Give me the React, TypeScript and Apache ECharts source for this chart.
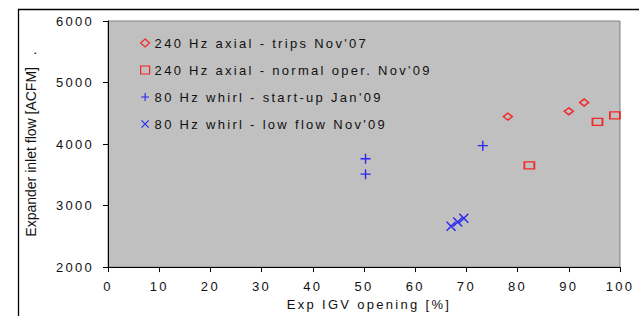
import React, { useEffect, useRef } from "react";
import * as echarts from "echarts";

const seriesNames = [
  "240 Hz axial - trips Nov'07",
  "240 Hz axial - normal oper. Nov'09",
  "80 Hz whirl - start-up Jan'09",
  "80 Hz whirl - low flow Nov'09",
];
const tripsNov07 = [
  [78.1, 4446],
  [90.0, 4532],
  [93.0, 4676],
];
const normalNov09 = [
  [82.3, 3655],
  [95.6, 4361],
  [99.0, 4468],
];
const startupJan09 = [
  [50.3, 3760],
  [50.3, 3511],
  [73.2, 3974],
];
const lowFlowNov09 = [
  [67.0, 2665],
  [68.3, 2734],
  [69.5, 2793],
];
const xTicks = { min: 0, max: 100, interval: 10 };
const yTicks = { min: 2000, max: 6000, interval: 1000 };
const xName = "Exp IGV opening [%]";
const yName = "Expander inlet flow [ACFM]   .";

const PLUS =
  "path://M4.3,0 L5.7,0 L5.7,4.3 L10,4.3 L10,5.7 L5.7,5.7 L5.7,10 L4.3,10 L4.3,5.7 L0,5.7 L0,4.3 L4.3,4.3 Z";
const CROSS =
  "path://M0,1 L1,0 L10,9 L9,10 Z M9,0 L10,1 L1,10 L0,9 Z";

const RED = "#ff0000";
const BLUE = "#0000ff";
const TXT = "#111111";
const FONT = "Liberation Sans, Arial, sans-serif";

export default function App() {
  const ref = useRef<HTMLDivElement>(null);
  useEffect(() => {
    if (!ref.current) return;
    const chart = echarts.init(ref.current, undefined, { renderer: "svg" });
    chart.setOption({
      animation: false,
      backgroundColor: "#ffffff",
      textStyle: { fontFamily: FONT, color: TXT },
      graphic: [
        {
          type: "rect",
          z: -10,
          shape: { x: 18.5, y: 9.5, width: 700, height: 400 },
          style: { fill: "none", stroke: "#000", lineWidth: 1.3 },
        },
      ],
      grid: {
        left: 108,
        right: 19,
        top: 21,
        bottom: 44,
        show: true,
        backgroundColor: "#c0c0c0",
        borderColor: "#808080",
        borderWidth: 1,
      },
      legend: {
        orient: "vertical",
        left: 135,
        top: 31,
        itemWidth: 9,
        itemHeight: 8,
        itemGap: 13,
        textStyle: { fontSize: 13, color: TXT, fontFamily: FONT, lineHeight: 14 },
        data: [
          { name: seriesNames[0], icon: "diamond", itemStyle: { borderWidth: 1.2 } },
          { name: seriesNames[1], icon: "rect", itemStyle: { borderWidth: 1.2 } },
          { name: seriesNames[2], icon: PLUS },
          { name: seriesNames[3], icon: CROSS },
        ],
      },
      xAxis: {
        type: "value",
        min: xTicks.min,
        max: xTicks.max,
        interval: xTicks.interval,
        name: xName,
        nameLocation: "middle",
        nameGap: 28,
        nameTextStyle: { fontSize: 13, color: TXT, padding: [0, 0, 0, 10] },
        axisLine: { show: true, lineStyle: { color: "#000", width: 1 } },
        axisTick: { show: true, length: 5, lineStyle: { color: "#000" } },
        axisLabel: { fontSize: 13, color: TXT, margin: 13, formatter: (v: number) => String(v) },
        splitLine: { show: false },
      },
      yAxis: {
        type: "value",
        min: yTicks.min,
        max: yTicks.max,
        interval: yTicks.interval,
        name: yName,
        nameLocation: "middle",
        nameGap: 70,
        nameTextStyle: { fontSize: 14, color: TXT },
        axisLine: { show: true, lineStyle: { color: "#000", width: 1 } },
        axisTick: { show: true, length: 5, lineStyle: { color: "#000" } },
        axisLabel: { fontSize: 13, color: TXT, margin: 14, formatter: (v: number) => String(v) },
        splitLine: { show: false },
      },
      series: [
        {
          name: seriesNames[0],
          type: "scatter",
          symbol: "diamond",
          symbolSize: [9, 7],
          itemStyle: { color: "rgba(0,0,0,0)", borderColor: RED, borderWidth: 1.5 },
          data: tripsNov07,
        },
        {
          name: seriesNames[1],
          type: "scatter",
          symbol: "rect",
          symbolSize: [10, 7],
          itemStyle: { color: "rgba(0,0,0,0)", borderColor: RED, borderWidth: 1.5 },
          data: normalNov09,
        },
        {
          name: seriesNames[2],
          type: "scatter",
          symbol: PLUS,
          symbolSize: 10,
          itemStyle: { color: BLUE, borderWidth: 0 },
          data: startupJan09,
        },
        {
          name: seriesNames[3],
          type: "scatter",
          symbol: CROSS,
          symbolSize: 10,
          itemStyle: { color: BLUE, borderWidth: 0 },
          data: lowFlowNov09,
        },
      ],
    });
    return () => chart.dispose();
  }, []);
  return (
    <>
      <style>{`.chart-root text[style*="13px"] { letter-spacing: 2.3px; }`}</style>
      <div
        ref={ref}
        className="chart-root"
        style={{ position: "fixed", left: 0, top: 0, width: 639, height: 316 }}
      />
    </>
  );
}
